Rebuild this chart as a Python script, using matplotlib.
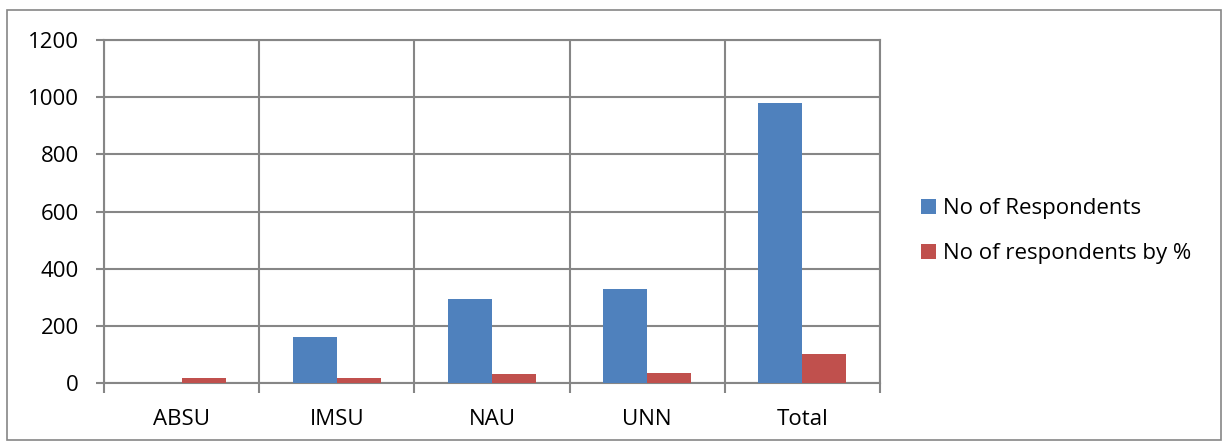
import numpy as np
import matplotlib.pyplot as plt
from matplotlib.patches import Rectangle
import matplotlib
matplotlib.rcParams.update({'font.size': 16, 'font.family': ['Open Sans', 'DejaVu Sans']})

# data
universities = ['ABSU', 'IMSU', 'NAU', 'UNN', 'Total']
respondents = [0, 162, 294, 330, 980]
respondents_pct = [19, 16.5, 30, 33.7, 100]

blue = '#4F81BD'
red = '#C0504D'
grey = '#868686'

fig = plt.figure(figsize=(12.25, 4.47), dpi=100)
ax = fig.add_axes([104/1225, 64/447, 776/1225, 343/447])

x = np.arange(len(universities))
w = 0.284
ax.bar(x - w/2, respondents, w, color=blue, label='No of Respondents', zorder=3)
ax.bar(x + w/2, respondents_pct, w, color=red, label='No of respondents by %', zorder=3)

ax.set_xlim(-0.5, len(universities) - 0.5)
ax.set_ylim(0, 1200)
ax.set_yticks(np.arange(0, 1201, 200))
ax.set_xticks(x)
ax.set_xticklabels(universities)
ax.set_xticks(np.arange(-0.5, len(universities)), minor=True)

ax.grid(axis='y', color=grey, linewidth=1.5, zorder=0)
ax.grid(axis='x', which='minor', color=grey, linewidth=1.5, zorder=0)
ax.tick_params(axis='x', which='major', length=0, pad=19)
ax.tick_params(axis='x', which='minor', length=7, width=1.5, color=grey, direction='out')
ax.tick_params(axis='y', length=6, width=1.5, color=grey, pad=12)
for s in ax.spines.values():
    s.set_color(grey)
    s.set_linewidth(1.5)

fig.legend(loc='center left', bbox_to_anchor=(901/1225, 0.483), frameon=False,
           handlelength=0.68, handleheight=0.68, labelspacing=1.07, handletextpad=0.3,
           fontsize=16)

fig.add_artist(Rectangle((7/1225, 7/447), 1214/1225, 430/447, transform=fig.transFigure,
                         fill=False, edgecolor=grey, linewidth=1.2))

plt.savefig('out.png')
